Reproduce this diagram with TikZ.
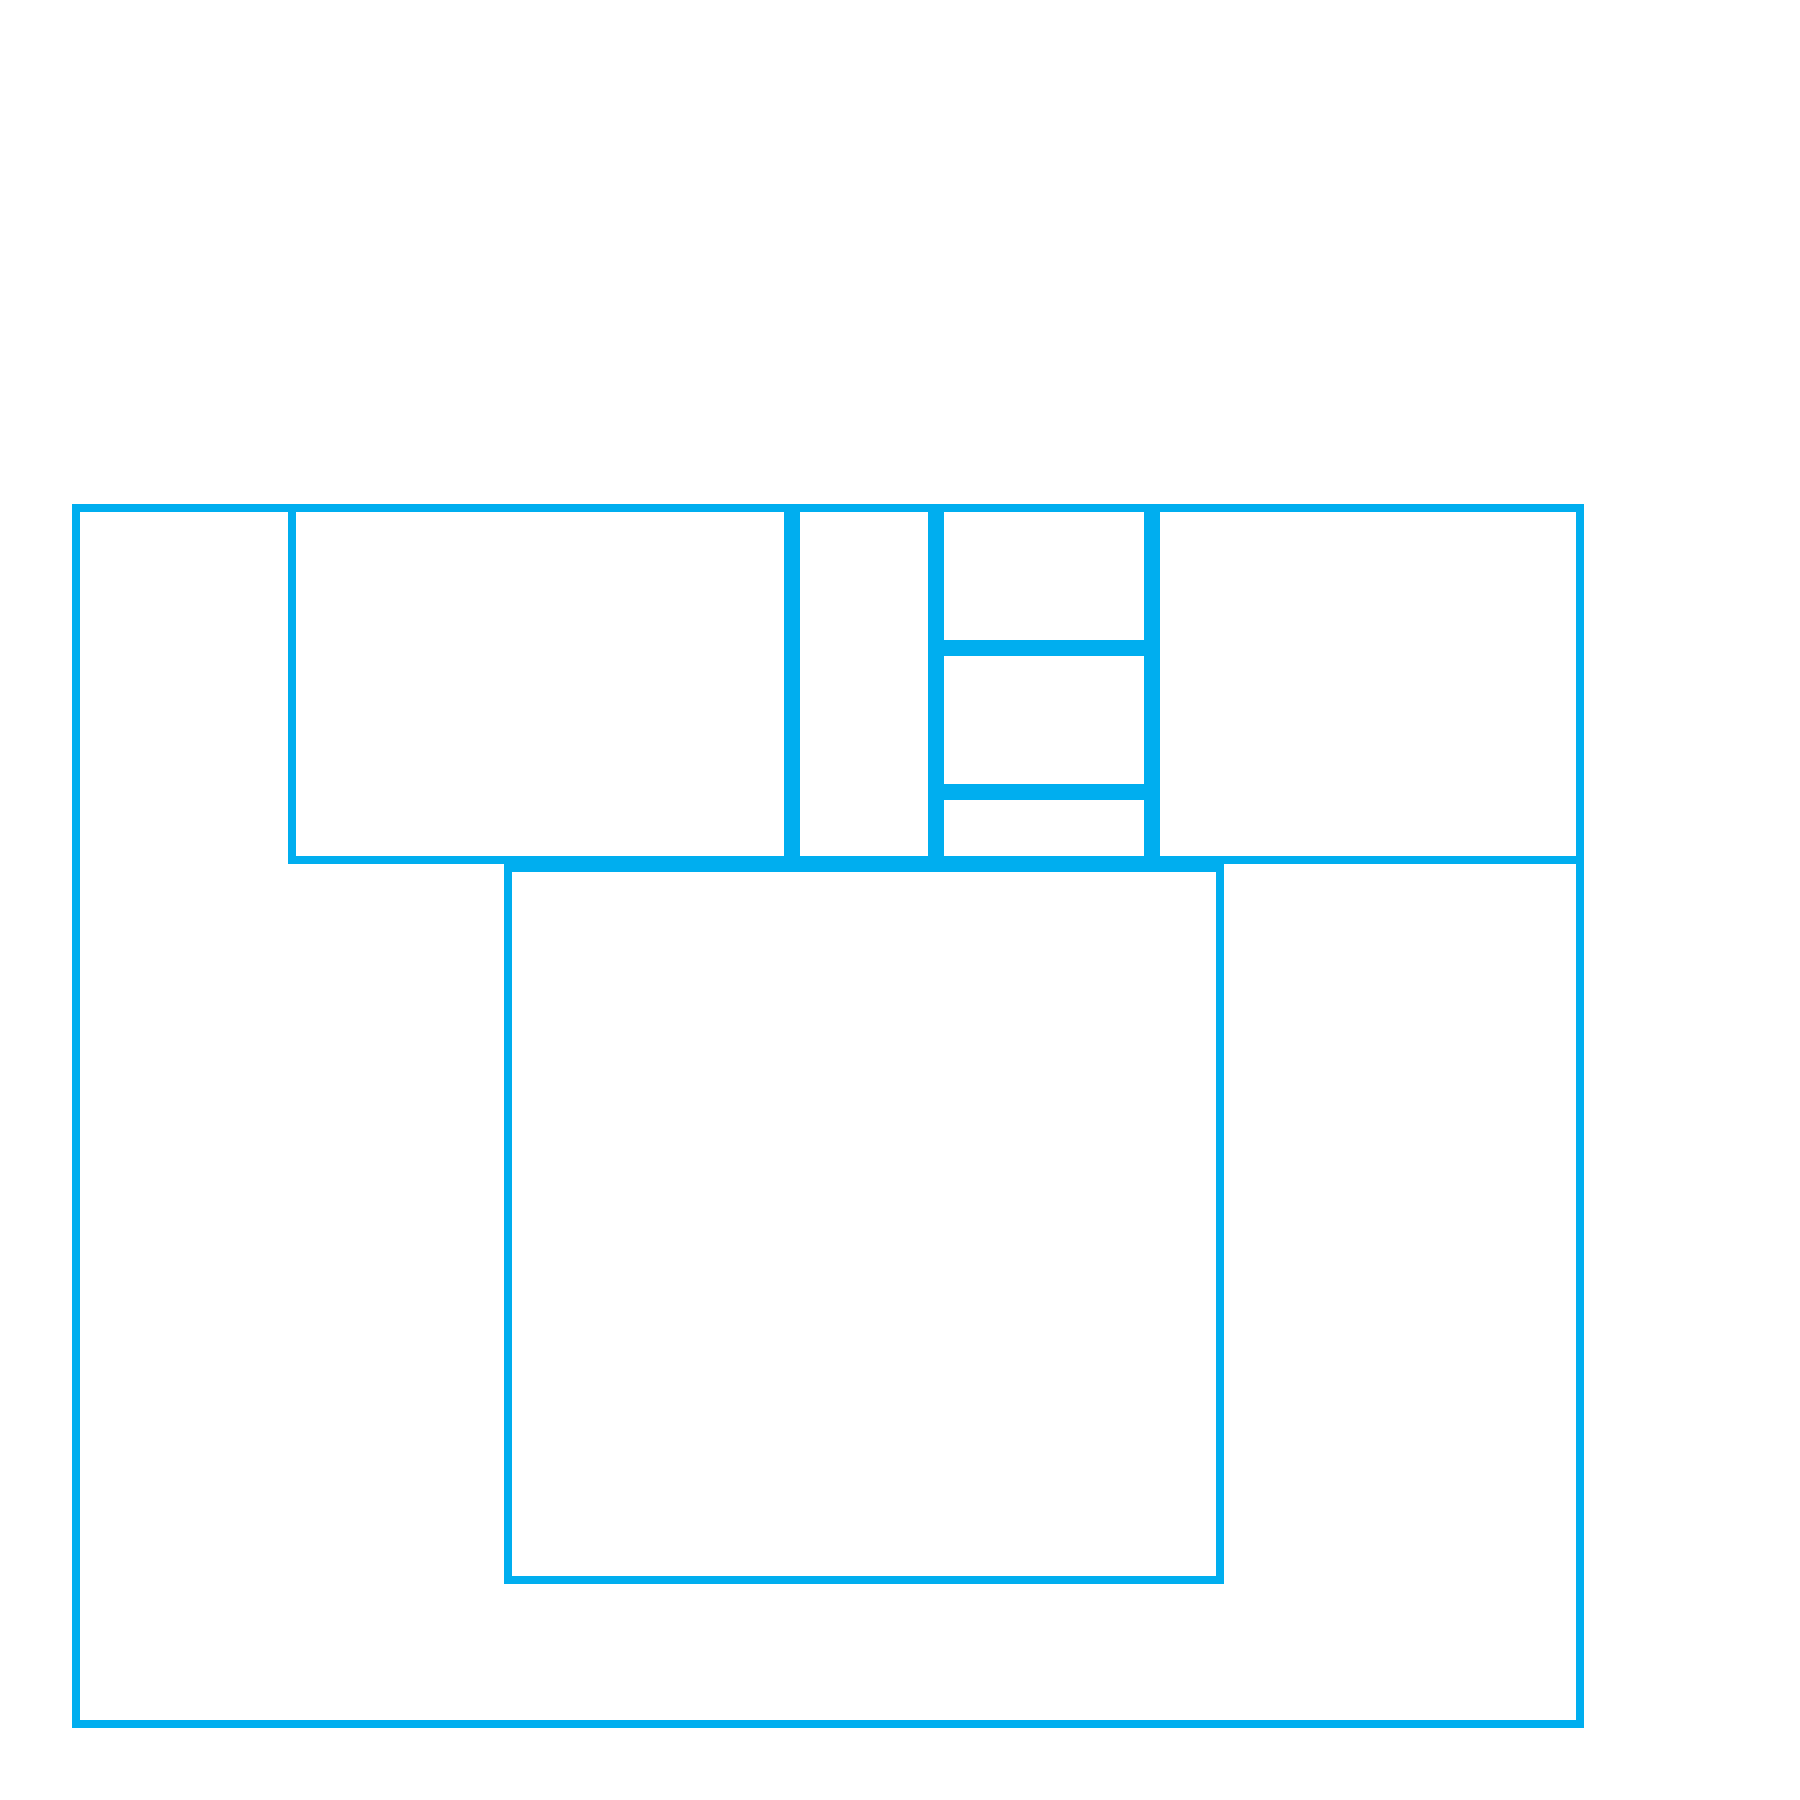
\documentclass[tikz,border=0pt]{standalone}
\usepackage{tikz}
\definecolor{planblue}{RGB}{0,174,239}

\begin{document}
\begin{tikzpicture}[x=0.01cm,y=-0.01cm,wall/.style={draw=planblue,line width=0.08cm}]
\useasboundingbox (0,0) rectangle (1800,1800);
\draw[style=wall] (76,508) rectangle (1580,1724);
\draw[style=wall] (292,508) rectangle (788,860);
\draw[style=wall] (796,508) rectangle (932,860);
\draw[style=wall] (940,508) rectangle (1148,644);
\draw[style=wall] (940,652) rectangle (1148,788);
\draw[style=wall] (940,796) rectangle (1148,860);
\draw[style=wall] (1156,508) rectangle (1580,860);
\draw[style=wall] (508,868) rectangle (1220,1580);
\end{tikzpicture}
\end{document}
